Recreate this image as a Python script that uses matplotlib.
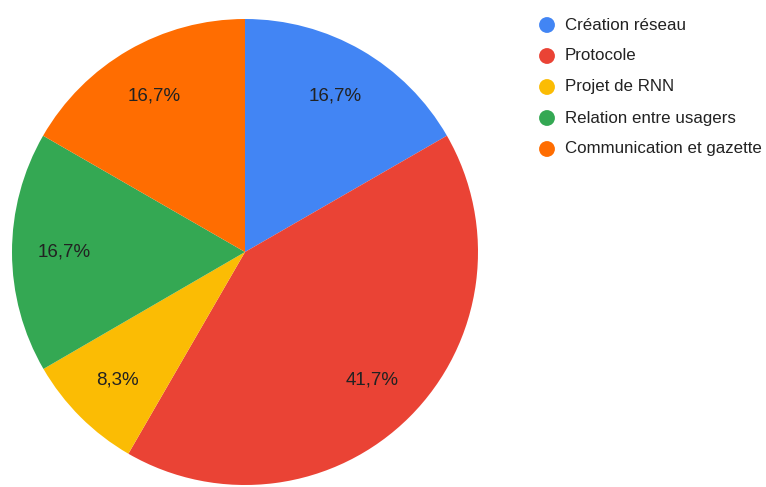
import matplotlib
matplotlib.use("Agg")
import matplotlib.pyplot as plt

categories = ["Création réseau", "Protocole", "Projet de RNN",
              "Relation entre usagers", "Communication et gazette"]
values = [16.7, 41.7, 8.3, 16.7, 16.7]
colors = ["#4285F4", "#EA4335", "#FBBC04", "#34A853", "#FF6D01"]

plt.rcParams["font.family"] = ["Liberation Sans", "DejaVu Sans"]

W, H = 766, 487
fig = plt.figure(figsize=(W / 100, H / 100), dpi=100)
ax = fig.add_axes([0, 0, 1, 1])

labels_pct = [f"{v:.1f}%".replace(".", ",") for v in values]

wedges, texts = ax.pie(
    values,
    colors=colors,
    startangle=90,
    counterclock=False,
    center=(245, H - 252),
    radius=233,
    labels=labels_pct,
    labeldistance=0.775,
    textprops=dict(fontsize=13.5, color="#222222", ha="center", va="center"),
    wedgeprops=dict(linewidth=0),
    frame=True,
)
ax.set_xlim(0, W)
ax.set_ylim(0, H)
ax.set_aspect("equal")
ax.axis("off")

# legend
lx, ly0, dy = 547, H - 25, 31
for i, (name, c) in enumerate(zip(categories, colors)):
    y = ly0 - i * dy
    ax.scatter([lx], [y], s=130, color=c, edgecolors="none", zorder=5)
    ax.text(lx + 18, y, name, fontsize=12.2, color="#222222",
            ha="left", va="center")

fig.savefig("out.png", dpi=100)
